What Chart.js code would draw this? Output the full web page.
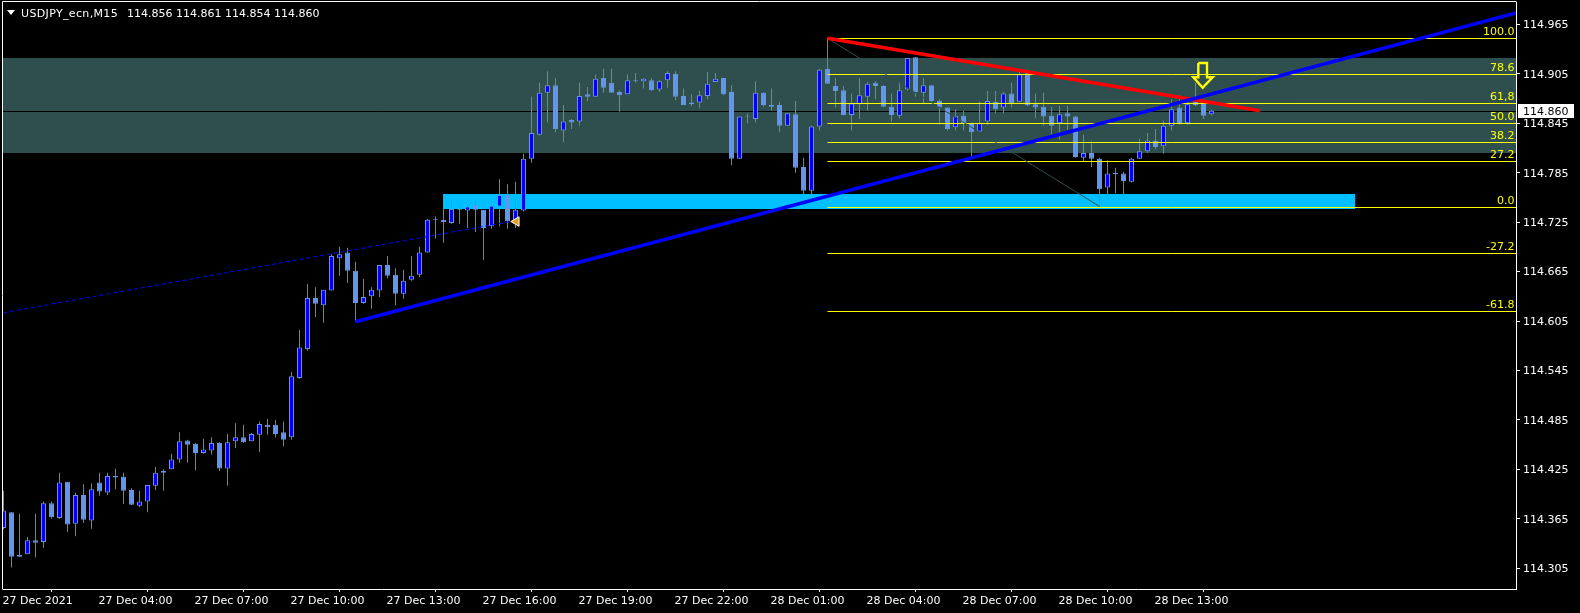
<!DOCTYPE html>
<html><head><meta charset="utf-8">
<style>html,body{margin:0;padding:0;background:#000;overflow:hidden}canvas{display:block}</style>
<script src="https://cdn.jsdelivr.net/npm/chart.js@4/dist/chart.umd.min.js"></script>
</head><body><canvas id="c" width="1580" height="613"></canvas>
<script>
const headerSymbol = "USDJPY_ecn,M15";
const headerValues = "114.856 114.861 114.854 114.860";
const opens = [114.354,114.373,114.321,114.322,114.339,114.337,114.384,114.366,114.410,114.359,114.394,114.363,114.409,114.397,114.417,114.416,114.400,114.381,114.386,114.405,114.423,114.425,114.437,114.460,114.456,114.445,114.448,114.457,114.426,114.459,114.464,114.459,114.467,114.479,114.479,114.470,
114.464,114.536,114.571,114.633,114.624,114.642,114.681,114.688,114.666,114.627,114.635,114.642,114.673,114.661,114.638,114.655,114.661,114.688,114.729,
114.728,114.724,114.741,114.739,114.746,114.740,114.720,114.744,114.758,114.726,
114.739,114.802,114.831,114.882,114.891,114.836,114.849,114.847,114.880,114.877,114.900,114.894,114.883,114.880,114.897,114.896,114.897,114.886,114.897,114.905,114.878,114.868,114.870,114.878,114.895,114.900,114.883,114.802,114.854,114.850,114.882,114.867,114.867,114.842,114.856,114.792,114.763,114.841,
114.911,114.890,114.885,114.855,114.868,114.877,114.894,114.890,114.865,114.854,114.886,114.925,114.882,114.891,114.872,114.864,114.840,114.854,114.844,114.835,114.847,114.871,114.864,114.881,114.871,114.906,114.868,114.865,114.854,114.845,114.857,114.853,114.803,114.809,114.802,114.767,
114.785,114.784,114.774,114.802,114.811,114.824,114.817,114.842,114.864,114.845,114.871,114.873,114.856];
const highs = [114.399,114.373,114.371,114.343,114.371,114.386,114.386,114.421,114.410,114.397,114.407,114.408,114.421,114.421,114.426,114.421,114.402,114.399,114.406,114.428,114.425,114.444,114.470,114.461,114.457,114.462,114.464,114.458,114.468,114.481,114.479,114.469,114.483,114.486,114.485,114.483,
114.543,114.594,114.650,114.646,114.643,114.686,114.695,114.694,114.677,114.656,114.646,114.673,114.684,114.669,114.667,114.684,114.695,114.729,114.732,
114.741,114.751,114.746,114.746,114.751,114.740,114.751,114.777,114.771,114.774,
114.808,114.877,114.894,114.908,114.900,114.867,114.850,114.894,114.889,114.904,114.911,114.911,114.885,114.904,114.906,114.900,114.900,114.897,114.908,114.908,114.887,114.880,114.884,114.907,114.906,114.900,114.891,114.853,114.857,114.896,114.883,114.887,114.871,114.857,114.872,114.803,114.842,114.911,
114.948,114.900,114.890,114.881,114.900,114.895,114.896,114.891,114.881,114.895,114.924,114.925,114.900,114.891,114.874,114.864,114.862,114.860,114.845,114.871,114.884,114.884,114.883,114.894,114.910,114.910,114.881,114.882,114.865,114.866,114.866,114.854,114.831,114.823,114.803,114.800,
114.791,114.786,114.803,114.826,114.833,114.838,114.848,114.874,114.879,114.873,114.894,114.874,114.861];
const lows = [114.352,114.306,114.319,114.322,114.318,114.330,114.365,114.365,114.349,114.344,114.360,114.353,114.393,114.394,114.401,114.383,114.382,114.379,114.373,114.400,114.399,114.425,114.433,114.433,114.424,114.444,114.443,114.423,114.405,114.451,114.457,114.459,114.446,114.467,114.464,114.453,
114.461,114.535,114.569,114.610,114.603,114.642,114.660,114.651,114.604,114.626,114.620,114.634,114.657,114.624,114.632,114.654,114.658,114.688,114.705,
114.700,114.723,114.723,114.718,114.713,114.679,114.717,114.720,114.717,114.718,
114.738,114.797,114.830,114.846,114.834,114.822,114.838,114.842,114.872,114.877,114.882,114.882,114.859,114.880,114.894,114.887,114.884,114.883,114.888,114.873,114.867,114.866,114.863,114.874,114.895,114.879,114.794,114.802,114.845,114.846,114.865,114.860,114.834,114.842,114.785,114.759,114.759,114.836,
114.893,114.864,114.855,114.836,114.850,114.860,114.874,114.865,114.847,114.851,114.885,114.877,114.869,114.870,114.843,114.836,114.836,114.836,114.805,114.834,114.843,114.857,114.857,114.864,114.871,114.866,114.851,114.842,114.831,114.825,114.837,114.803,114.799,114.792,114.744,114.753,
114.760,114.753,114.773,114.802,114.809,114.813,114.808,114.836,114.843,114.843,114.866,114.850,114.854];
const closes = [114.375,114.319,114.319,114.339,114.336,114.384,114.367,114.409,114.358,114.394,114.364,114.401,114.398,114.417,114.415,114.399,114.382,114.386,114.406,114.421,114.421,114.437,114.459,114.455,114.445,114.449,114.457,114.426,114.458,114.464,114.458,114.468,114.480,114.476,114.468,114.461,
114.538,114.573,114.633,114.626,114.643,114.684,114.686,114.666,114.627,114.634,114.643,114.673,114.660,114.638,114.654,114.660,114.688,114.728,114.728,
114.725,114.741,114.740,114.744,114.740,114.718,114.745,114.758,114.726,114.740,
114.802,114.833,114.882,114.891,114.838,114.847,114.846,114.878,114.877,114.899,114.888,114.882,114.879,114.897,114.896,114.899,114.885,114.896,114.906,114.877,114.867,114.870,114.879,114.893,114.899,114.880,114.802,114.853,114.853,114.882,114.867,114.865,114.842,114.857,114.791,114.763,114.841,114.910,
114.893,114.884,114.855,114.869,114.879,114.893,114.890,114.865,114.855,114.885,114.924,114.883,114.891,114.872,114.864,114.838,114.854,114.845,114.834,114.845,114.872,114.862,114.881,114.869,114.904,114.867,114.864,114.853,114.842,114.856,114.853,114.804,114.809,114.802,114.765,114.784,
114.783,114.775,114.802,114.811,114.824,114.816,114.842,114.862,114.844,114.868,114.867,114.854,114.860];

const priceTicks = [114.305,114.365,114.425,114.485,114.545,114.605,114.665,114.725,114.785,114.845,114.905,114.965];
const timeTickBars = [0,12,24,36,48,60,72,84,96,108,120,132,144];
const timeLabels = ["27 Dec 2021","27 Dec 04:00","27 Dec 07:00","27 Dec 10:00","27 Dec 13:00","27 Dec 16:00","27 Dec 19:00","27 Dec 22:00","28 Dec 01:00","28 Dec 04:00","28 Dec 07:00","28 Dec 10:00","28 Dec 13:00"];

const fibLabels = ["100.0","78.6","61,8","50.0","38.2","27.2","0.0","-27.2","-61.8"];
const fibLevels = [114.94777,114.90409,114.86891,114.84464,114.82159,114.79853,114.74272,114.68691,114.61654];
const fibStartBar = 103;
const fibDiagonal = [{x:103,y:114.948},{x:137,y:114.744}];
const tealZone = [114.92411,114.80885];
const cyanZone = [114.7591,114.7409];
const cyanBars = [54.94,168.94];
const currentPriceLine = 114.8592;
const currentPriceText = "114.860";
const blueTrend = [{x:44,y:114.604},{x:189.0625,y:114.9787}];
const redTrend = [{x:103,y:114.948},{x:157.06,y:114.8602}];
const dottedTrend = [{x:-0.0625,y:114.615},{x:63.3,y:114.7255}];
const orangeMark = [{x:64.1,y:114.7257}];
const yellowArrow = [{x:149.35,y:114.918},{x:150.44,y:114.918},{x:150.44,y:114.9007},{x:151.15,y:114.9007},{x:149.9,y:114.8881},{x:148.73,y:114.9007},{x:149.35,y:114.9007},{x:149.35,y:114.918}];

const xMin=-0.0625, xMax=189.0625, yMin=114.27985, yMax=114.99206;
const FONT='11px "DejaVu Sans"';
const CORN='#6495ED', BLUE='#0000FF', WICK='#5588CC', YEL='#FFFF00';

const idx = opens.map((_,i)=>i);
const line=(data,color,width,order,extra={})=>({type:'line',data,borderColor:color,borderWidth:width,pointRadius:0,tension:0,fill:false,order,...extra});
const datasets=[
  line([{x:xMin,y:tealZone[0]},{x:xMax,y:tealZone[0]}],'rgba(0,0,0,0)',0,100,{fill:{value:tealZone[1]},backgroundColor:'#2F4F4F'}),
  line([{x:cyanBars[0],y:cyanZone[0]},{x:cyanBars[1],y:cyanZone[0]}],'rgba(0,0,0,0)',0,99,{fill:{value:cyanZone[1]},backgroundColor:'#00BFFF'}),
  line([{x:xMin,y:currentPriceLine},{x:xMax,y:currentPriceLine}],'#000000',1,98),
  {type:'bar',order:50,grouped:false,barThickness:1,inflateAmount:0,borderWidth:0,backgroundColor:WICK,
   data:idx.map(i=>({x:i,y:[lows[i],highs[i]]}))},
  {type:'bar',order:49,grouped:false,barThickness:5,inflateAmount:0,borderWidth:1,borderSkipped:false,
   borderColor:CORN,
   backgroundColor:idx.map(i=>closes[i]>opens[i]?BLUE:CORN),
   data:idx.map(i=>({x:i,y:[opens[i],closes[i]]}))},
  ...fibLevels.map((v,i)=>line([{x:fibStartBar,y:v},{x:xMax,y:v}],YEL,1,30-i)),
  line(fibDiagonal,'#2F4F4F',1,10),
  line(redTrend,'#FF0000',3.6,9),
  line(blueTrend,'#0000FF',3.6,8),
  line(dottedTrend,'#0000FF',1,7,{borderDash:[4,3]}),
  {type:'line',data:orangeMark,order:5,showLine:false,pointStyle:'triangle',rotation:-90,pointRadius:5.5,backgroundColor:'#E0A020',borderColor:'#FFFFFF',borderWidth:1},
  line(yellowArrow,YEL,2.4,4,{borderJoinStyle:'miter'})
];

const overlay={id:'overlay',
  afterDraw(chart){
    const {ctx,chartArea:a,scales:{y}}=chart;
    ctx.save();
    ctx.strokeStyle='#FFFFFF';ctx.lineWidth=1;
    ctx.beginPath();ctx.moveTo(2.5,a.bottom+0.5);ctx.lineTo(2.5,1.5);ctx.lineTo(a.right+0.5,1.5);ctx.stroke();
    ctx.font=FONT;ctx.textBaseline='middle';
    ctx.fillStyle=YEL;ctx.textAlign='right';
    fibLabels.forEach((t,i)=>ctx.fillText(t,a.right-1.5,y.getPixelForValue(fibLevels[i])-6));
    ctx.textAlign='left';
    ctx.fillStyle='#FFFFFF';
    ctx.beginPath();ctx.moveTo(7,10);ctx.lineTo(15,10);ctx.lineTo(11,15);ctx.closePath();ctx.fill();
    ctx.letterSpacing='0.35px';
    ctx.fillText(headerSymbol,21,14);
    ctx.letterSpacing='0px';
    ctx.fillText(headerValues,127,14);
    const py=y.getPixelForValue(114.860);
    ctx.fillStyle='#FFFFFF';ctx.fillRect(a.right+2,Math.round(py)-7,56,14);
    ctx.fillStyle='#000000';ctx.fillText(currentPriceText,1523,py+1.5);
    ctx.restore();
  }};

new Chart(document.getElementById('c'),{
  data:{datasets},
  plugins:[overlay],
  options:{
    responsive:false,animation:false,devicePixelRatio:1,events:[],
    layout:{autoPadding:false,padding:{left:3,top:2,right:0,bottom:0}},
    plugins:{legend:{display:false},tooltip:{enabled:false},title:{display:false}},
    scales:{
      x:{type:'linear',min:xMin,max:xMax,offset:false,
        afterBuildTicks(s){s.ticks=timeTickBars.map(v=>({value:v}));},
        afterFit(s){s.height=24;s.paddingLeft=0;s.paddingRight=0;},
        grid:{drawOnChartArea:false,drawTicks:true,tickLength:3,tickColor:'#FFFFFF'},
        border:{display:true,color:'#FFFFFF',width:1},
        ticks:{autoSkip:false,maxRotation:0,minRotation:0,align:'start',padding:3,labelOffset:-1,color:'#FFFFFF',font:{family:'"DejaVu Sans"',size:11},
          callback:v=>timeLabels[timeTickBars.indexOf(v)]}},
      y:{type:'linear',position:'right',min:yMin,max:yMax,
        afterBuildTicks(s){s.ticks=priceTicks.map(v=>({value:v}));},
        afterFit(s){s.width=64;s.paddingTop=0;s.paddingBottom=0;},
        grid:{drawOnChartArea:false,drawTicks:true,tickLength:4,tickColor:'#FFFFFF'},
        border:{display:true,color:'#FFFFFF',width:1},
        ticks:{autoSkip:false,padding:3,labelOffset:1,color:'#FFFFFF',font:{family:'"DejaVu Sans"',size:11},
          callback:v=>v.toFixed(3)}}
    }
  }
});
</script></body></html>
